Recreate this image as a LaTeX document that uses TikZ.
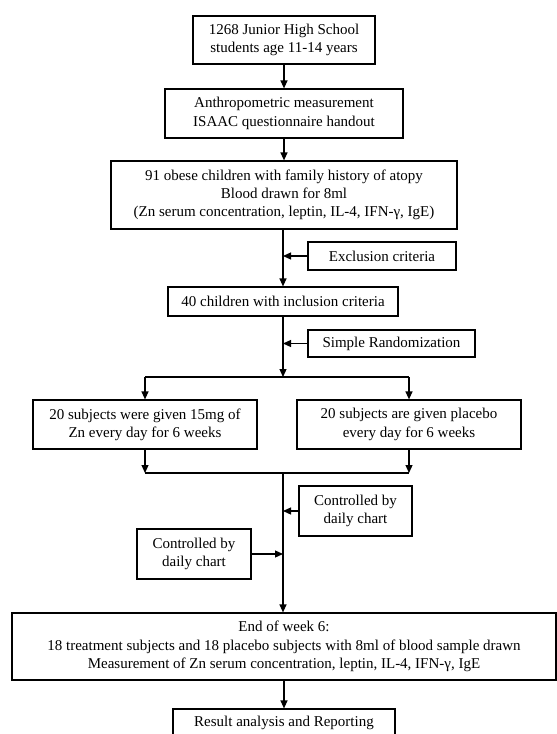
\documentclass[tikz,border=0pt]{standalone}
\usepackage{fontspec}
\setmainfont{Liberation Serif}
\usetikzlibrary{arrows.meta,positioning,calc}

\tikzset{
  box/.style={draw,line width=1.2pt,align=center,inner sep=0pt,
    font=\fontsize{15pt}{18.3pt}\selectfont},
  arr/.style={line width=1.2pt,-{Triangle[length=8pt,width=7pt]}},
  ln/.style={line width=1.2pt}
}

\begin{document}
\begin{tikzpicture}[x=1pt,y=-1pt]
\useasboundingbox (0,0) rectangle (557,734);
\node[box,minimum width=182,minimum height=48] (intake) at (284,40) {1268 Junior High School\\students age 11-14 years};
\node[box,minimum width=238,minimum height=49] (anthro) at (284,113.5) {Anthropometric measurement\\ISAAC questionnaire handout};
\node[box,minimum width=346,minimum height=68] (obese) at (284,195) {91 obese children with family history of atopy\\Blood drawn for 8ml\\(Zn serum concentration, leptin, IL-4, IFN-γ, IgE)};
\node[box,minimum width=148,minimum height=28] (excl) at (382,256) {Exclusion criteria};
\node[box,minimum width=230,minimum height=29] (incl) at (283,301.5) {40 children with inclusion criteria};
\node[box,minimum width=167,minimum height=27] (rand) at (391.5,343.5) {Simple Randomization};
\node[box,minimum width=224,minimum height=49] (zn) at (145,424.5) {20 subjects were given 15mg of\\Zn every day for 6 weeks};
\node[box,minimum width=224,minimum height=49] (plc) at (409,424.5) {20 subjects are given placebo\\every day for 6 weeks};
\node[box,minimum width=113,minimum height=50] (ctrlR) at (355.5,511) {Controlled by\\daily chart};
\node[box,minimum width=114,minimum height=50] (ctrlL) at (194,554) {Controlled by\\daily chart};
\node[box,minimum width=544,minimum height=67] (week6) at (284,646.5) {End of week 6:\\18 treatment subjects and 18 placebo subjects with 8ml of blood sample drawn\\Measurement of Zn serum concentration, leptin, IL-4, IFN-γ, IgE};
\node[box,minimum width=222,minimum height=28] (report) at (284,723) {Result analysis and Reporting};

\coordinate (split) at (283,377);
\coordinate (splitL) at (145,377);
\coordinate (splitR) at (409,377);
\coordinate (merge) at (283,473);
\coordinate (mergeL) at (145,473);
\coordinate (mergeR) at (409,473);

\draw[arr] (intake) -- (anthro);
\draw[arr] (anthro) -- (obese);
\draw[arr] (obese.south -| incl) -- (incl);
\draw[arr] (excl.west) -- (excl.west -| incl);
\draw[arr] (incl) -- (split);
\draw[arr] (rand.west) -- (rand.west -| split);
\draw[ln] (splitL) -- (splitR);
\draw[arr] (splitL) -- (zn);
\draw[arr] (splitR) -- (plc);
\draw[arr] (zn) -- (mergeL);
\draw[arr] (plc) -- (mergeR);
\draw[ln] (mergeL) -- (mergeR);
\draw[arr] (merge) -- (merge |- week6.north);
\draw[arr] (ctrlR.west) -- (ctrlR.west -| merge);
\draw[arr] (ctrlL.east) -- (ctrlL.east -| merge);
\draw[arr] (week6) -- (report);
\end{tikzpicture}
\end{document}
